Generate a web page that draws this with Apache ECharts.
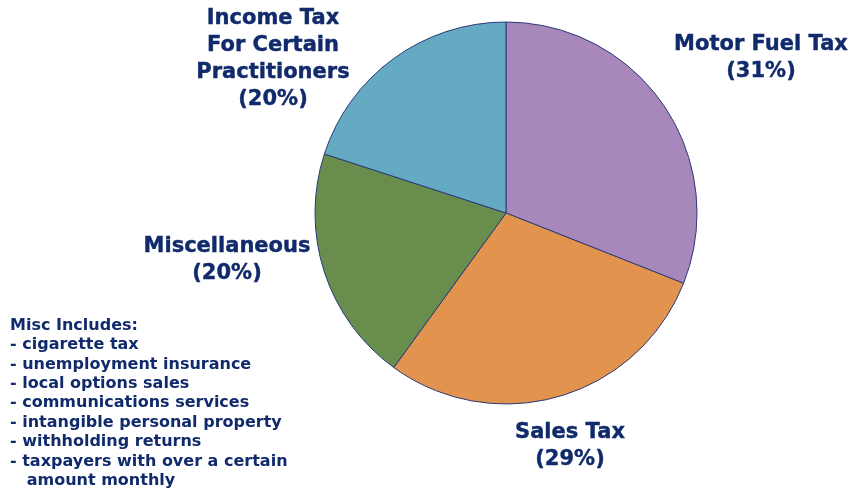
<!DOCTYPE html>
<html>
<head>
<meta charset="utf-8">
<script src="https://cdn.jsdelivr.net/npm/echarts@6/dist/echarts.min.js"></script>
<style>
  html, body { margin: 0; padding: 0; background: #ffffff; }
  #chart { width: 853px; height: 492px; }
</style>
</head>
<body>
<div id="chart"></div>
<script>
// Revenue shares by tax source (percent)
const categories = [
  'Motor Fuel Tax',
  'Sales Tax',
  'Miscellaneous',
  'Income Tax\nFor Certain\nPractitioners'
];
const shares = [31, 29, 20, 20];
const sliceColors = ['#a887bb', '#e2944e', '#698d4d', '#65aac3'];

// Items folded into "Miscellaneous"
const miscNotes = [
  'Misc Includes:',
  '- cigarette tax',
  '- unemployment insurance',
  '- local options sales',
  '- communications services',
  '- intangible personal property',
  '- withholding returns',
  '- taxpayers with over a certain',
  '   amount monthly'
];

// Where each slice's caption sits
const labelSpots = [
  { x: 761, y: 58 },
  { x: 570, y: 446 },
  { x: 227, y: 260 },
  { x: 273, y: 59 }
];

const textColor = '#102a6c';
const font = '"DejaVu Sans", Verdana, sans-serif';

const chart = echarts.init(document.getElementById('chart'), null, { renderer: 'canvas' });

chart.setOption({
  animation: false,
  backgroundColor: '#ffffff',
  series: [{
    type: 'pie',
    center: [506, 213],
    radius: 191,
    startAngle: 90,
    clockwise: true,
    silent: true,
    avoidLabelOverlap: false,
    itemStyle: { borderColor: '#2b3a7a', borderWidth: 1 },
    label: {
      show: true,
      position: 'outside',
      formatter: p => p.name + '\n(' + p.value + '%)',
      color: textColor,
      textBorderColor: textColor,
      textBorderWidth: 0.4,
      fontFamily: font,
      fontWeight: 'bold',
      fontSize: 21,
      lineHeight: 26.7,
      align: 'center',
      overflow: 'none'
    },
    labelLine: { show: false },
    labelLayout: p => ({
      x: labelSpots[p.dataIndex].x,
      y: labelSpots[p.dataIndex].y,
      align: 'center',
      verticalAlign: 'middle',
      width: 260
    }),
    data: categories.map((name, i) => ({
      name: name,
      value: shares[i],
      itemStyle: { color: sliceColors[i] }
    }))
  }],
  graphic: [{
    type: 'text',
    left: 10,
    top: 316,
    style: {
      text: miscNotes.join('\n'),
      fill: textColor,
      font: 'bold 16px ' + font,
      lineHeight: 19.4
    }
  }]
});
</script>
</body>
</html>
